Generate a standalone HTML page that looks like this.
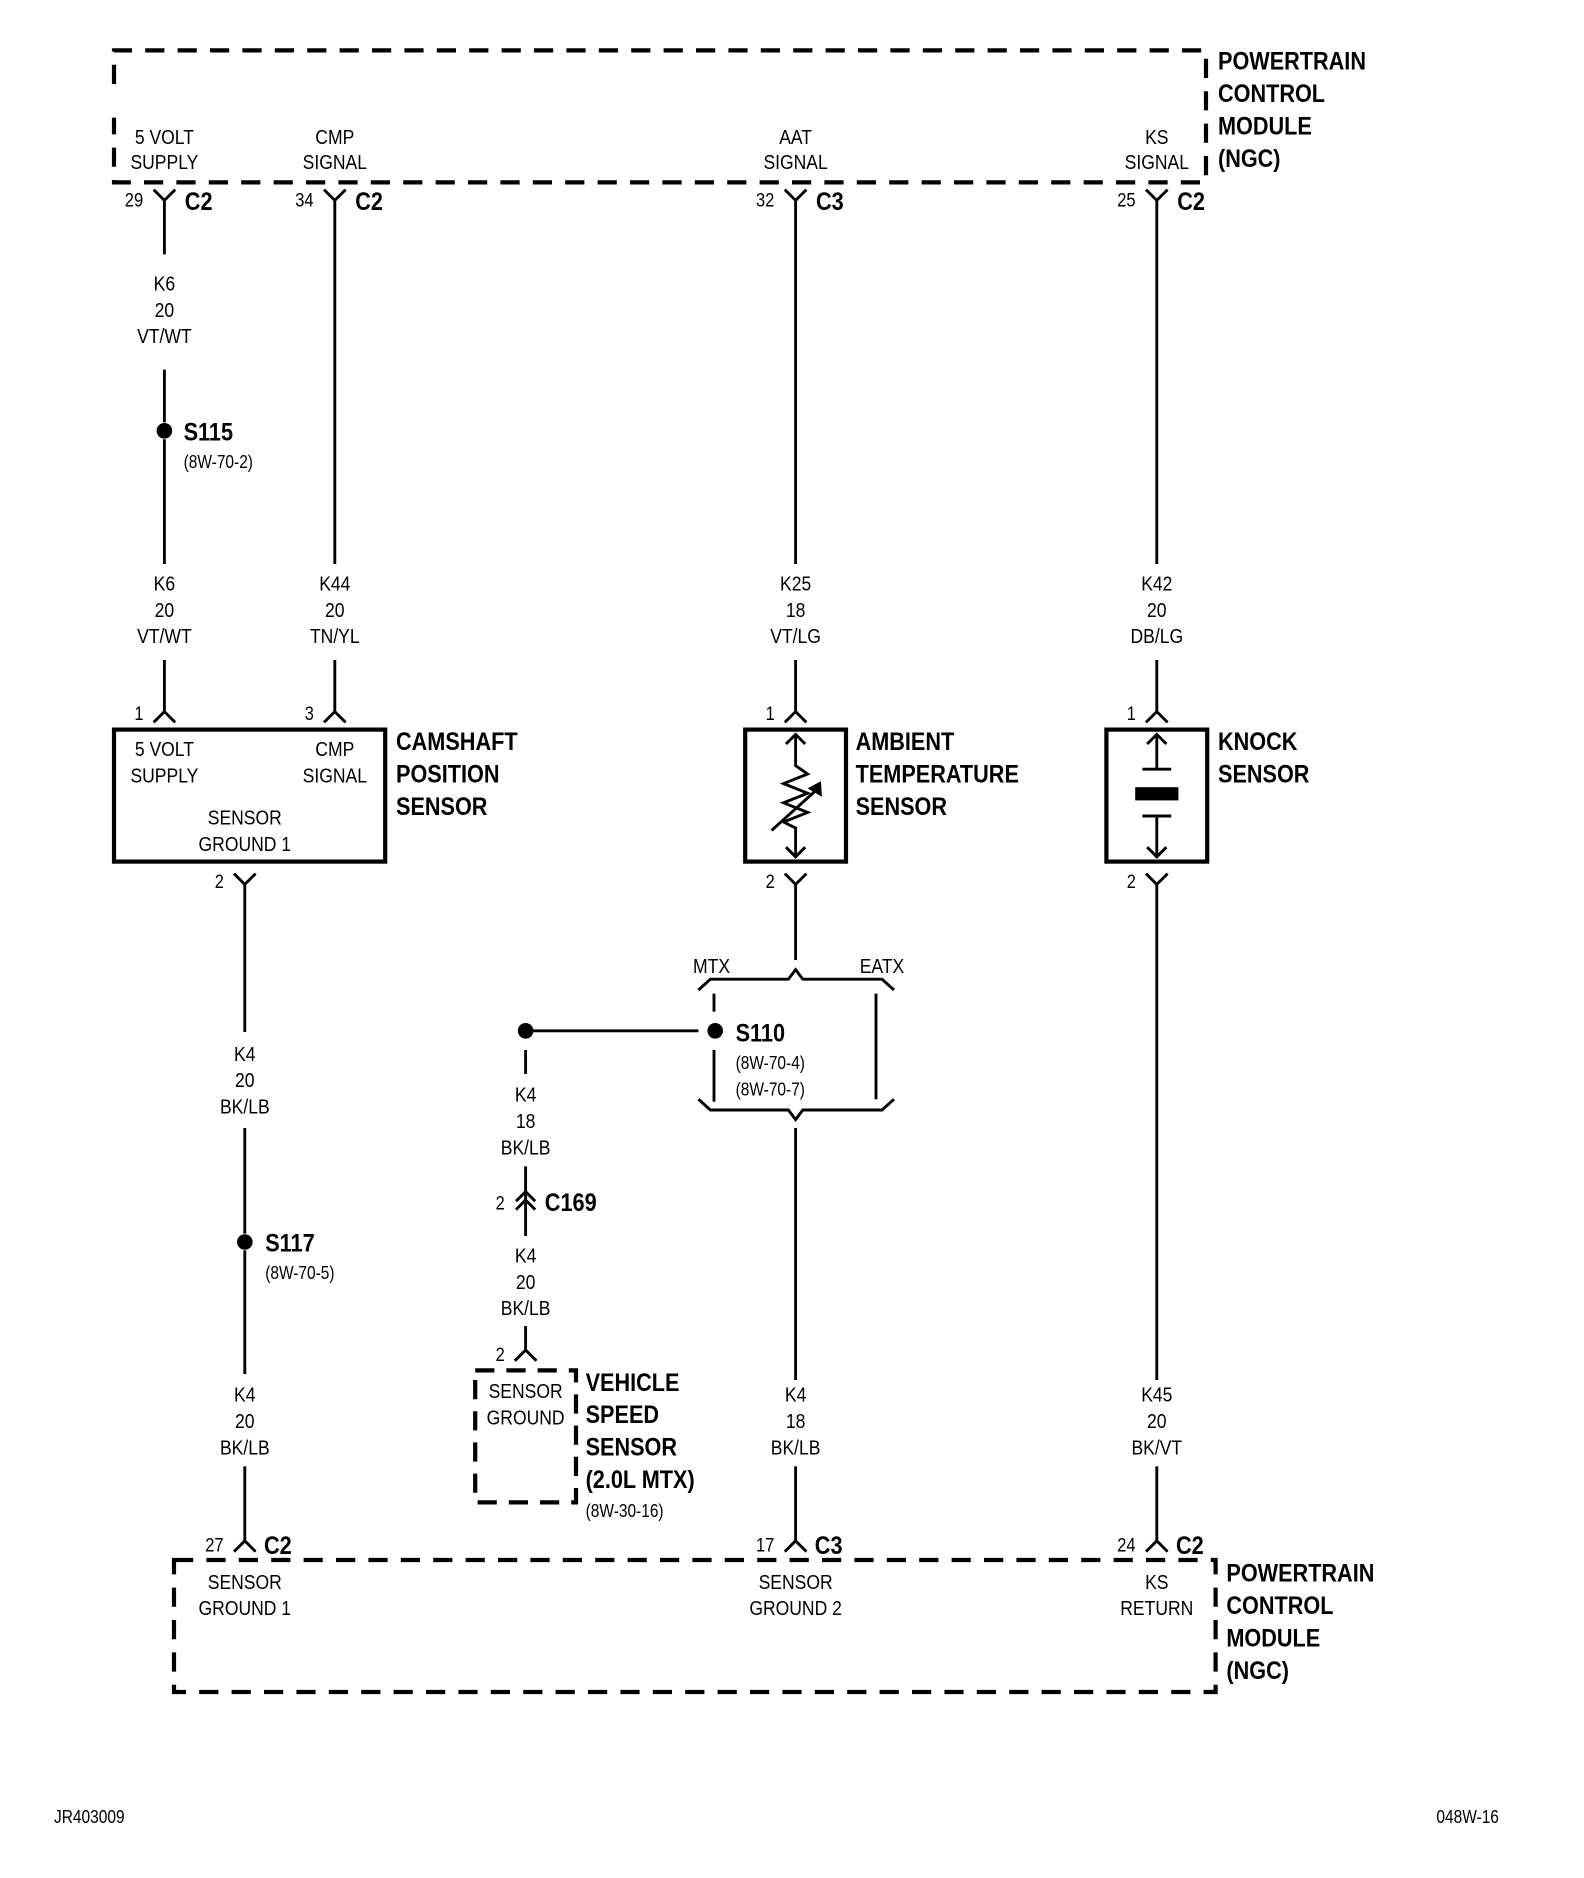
<!DOCTYPE html>
<html><head><style>
html,body{margin:0;padding:0;background:#fff;width:1584px;height:1878px;overflow:hidden}
svg{display:block}
text{font-family:"Liberation Sans Narrow","Liberation Sans",sans-serif;fill:#000}
.s{font-size:17px;text-anchor:middle}
.b{font-size:21px;font-weight:bold}
.p{font-size:16px}
.r{font-size:15px}
</style></head><body>
<svg id="d" width="1584" height="1878" viewBox="0 0 1320 1565" xmlns="http://www.w3.org/2000/svg">
<g fill="none" stroke="#000">
<path d="M95 70 V42 H1005 V152 H95 V98" stroke-width="3.5" stroke-dasharray="16 11"/>
<path d="M145 1300 H1013 V1410 H145 Z" stroke-width="3.5" stroke-dasharray="16 11"/>
<path d="M396 1142 H480 V1252 H396 Z" stroke-width="3.5" stroke-dasharray="16 10"/>
<g stroke-width="2.4">
<path d="M128 158 L137 167 L146 158 M137 167 V212 M137 308 V352 M137 366 V470 M137 550 V593 M128 602 L137 593 L146 602"/>
<path d="M270 158 L279 167 L288 158 M279 167 V470 M279 550 V593 M270 602 L279 593 L288 602"/>
<path d="M654 158 L663 167 L672 158 M663 167 V470 M663 550 V593 M654 602 L663 593 L672 602"/>
<path d="M955 158 L964 167 L973 158 M964 167 V470 M964 550 V593 M955 602 L964 593 L973 602"/>
<path d="M195 728 L204 737 L213 728 M204 737 V860 M204 940 V1028 M204 1042 V1145 M204 1222 V1284 M195 1293 L204 1284 L213 1293"/>
<path d="M654 728 L663 737 L672 728 M663 737 V800"/>
<path d="M663 612 V638 L673 645 L653 653 L673 661 L653 669 L673 677 L653 685 L663 690 V714 M655 620 L663 612 L671 620 M655 706 L663 714 L671 706"/>
<path d="M955 728 L964 737 L973 728 M964 737 V1150 M964 1222 V1284 M955 1293 L964 1284 L973 1293"/>
<path d="M964 612 V641 M952 641 H976 M952 680 H976 M964 680 V714 M956 620 L964 612 L972 620 M956 706 L964 714 L972 706"/>
<path d="M582 825 L592 816 H657 L663 808 L669 816 H735 L745 825"/>
<path d="M582 916 L592 925 H657 L663 933 L669 925 H735 L745 916"/>
<path d="M595 828 V843 M595 875 V918 M730 828 V916"/>
<path d="M663 940 V1150 M663 1222 V1284 M654 1293 L663 1284 L672 1293"/>
<path d="M438 859 H582 M438 875 V895 M438 972 V1030 M430 1001 L438 993 L446 1001 M430 1008 L438 1000 L446 1008 M438 1105 V1125 M429 1134 L438 1125 L447 1134"/>
<path d="M643 692 L684 655"/>
</g>
</g>
<rect x="95" y="608" width="226" height="110" fill="none" stroke="#000" stroke-width="3.5"/>
<rect x="621" y="608" width="84" height="110" fill="none" stroke="#000" stroke-width="3.5"/>
<rect x="922" y="608" width="84" height="110" fill="none" stroke="#000" stroke-width="3.5"/>
<rect x="946" y="656" width="36" height="11" fill="#000"/>
<path d="M684 651 L685 664 L673 657 Z" fill="#000"/>
<circle cx="137" cy="359" r="6.5"/>
<circle cx="204" cy="1035" r="6.5"/>
<circle cx="438" cy="859" r="6.5"/>
<circle cx="596" cy="859" r="6.5"/>

<text class="s" x="137" y="120">5 VOLT</text><text class="s" x="137" y="141">SUPPLY</text>
<text class="s" x="279" y="120">CMP</text><text class="s" x="279" y="141">SIGNAL</text>
<text class="s" x="663" y="120">AAT</text><text class="s" x="663" y="141">SIGNAL</text>
<text class="s" x="964" y="120">KS</text><text class="s" x="964" y="141">SIGNAL</text>
<text class="b" x="1015" y="58">POWERTRAIN</text><text class="b" x="1015" y="85">CONTROL</text><text class="b" x="1015" y="112">MODULE</text><text class="b" x="1015" y="139">(NGC)</text>
<text class="p" x="104" y="172">29</text><text class="b" x="154" y="175">C2</text>
<text class="p" x="246" y="172">34</text><text class="b" x="296" y="175">C2</text>
<text class="p" x="630" y="172">32</text><text class="b" x="680" y="175">C3</text>
<text class="p" x="931" y="172">25</text><text class="b" x="981" y="175">C2</text>
<text class="s" x="137" y="242">K6</text><text class="s" x="137" y="264">20</text><text class="s" x="137" y="286">VT/WT</text>
<text class="b" x="153" y="367">S115</text><text class="r" x="153" y="390">(8W-70-2)</text>
<text class="s" x="137" y="492">K6</text><text class="s" x="137" y="514">20</text><text class="s" x="137" y="536">VT/WT</text>
<text class="s" x="279" y="492">K44</text><text class="s" x="279" y="514">20</text><text class="s" x="279" y="536">TN/YL</text>
<text class="s" x="663" y="492">K25</text><text class="s" x="663" y="514">18</text><text class="s" x="663" y="536">VT/LG</text>
<text class="s" x="964" y="492">K42</text><text class="s" x="964" y="514">20</text><text class="s" x="964" y="536">DB/LG</text>
<text class="p" x="112" y="600">1</text><text class="p" x="254" y="600">3</text><text class="p" x="638" y="600">1</text><text class="p" x="939" y="600">1</text>
<text class="s" x="137" y="630">5 VOLT</text><text class="s" x="137" y="652">SUPPLY</text>
<text class="s" x="279" y="630">CMP</text><text class="s" x="279" y="652">SIGNAL</text>
<text class="s" x="204" y="687">SENSOR</text><text class="s" x="204" y="709">GROUND 1</text>
<text class="b" x="330" y="625">CAMSHAFT</text><text class="b" x="330" y="652">POSITION</text><text class="b" x="330" y="679">SENSOR</text>
<text class="b" x="713" y="625">AMBIENT</text><text class="b" x="713" y="652">TEMPERATURE</text><text class="b" x="713" y="679">SENSOR</text>
<text class="b" x="1015" y="625">KNOCK</text><text class="b" x="1015" y="652">SENSOR</text>
<text class="p" x="179" y="740">2</text><text class="p" x="638" y="740">2</text><text class="p" x="939" y="740">2</text>
<text class="s" x="204" y="884">K4</text><text class="s" x="204" y="906">20</text><text class="s" x="204" y="928">BK/LB</text>
<text class="b" x="221" y="1043">S117</text><text class="r" x="221" y="1066">(8W-70-5)</text>
<text class="s" x="204" y="1168">K4</text><text class="s" x="204" y="1190">20</text><text class="s" x="204" y="1212">BK/LB</text>
<text class="s" x="593" y="811">MTX</text><text class="s" x="735" y="811">EATX</text>
<text class="b" x="613" y="868">S110</text><text class="r" x="613" y="891">(8W-70-4)</text><text class="r" x="613" y="913">(8W-70-7)</text>
<text class="s" x="438" y="918">K4</text><text class="s" x="438" y="940">18</text><text class="s" x="438" y="962">BK/LB</text>
<text class="p" x="413" y="1008">2</text><text class="b" x="454" y="1009">C169</text>
<text class="s" x="438" y="1052">K4</text><text class="s" x="438" y="1074">20</text><text class="s" x="438" y="1096">BK/LB</text>
<text class="p" x="413" y="1134">2</text>
<text class="s" x="438" y="1165">SENSOR</text><text class="s" x="438" y="1187">GROUND</text>
<text class="b" x="488" y="1159">VEHICLE</text><text class="b" x="488" y="1186">SPEED</text><text class="b" x="488" y="1213">SENSOR</text><text class="b" x="488" y="1240">(2.0L MTX)</text>
<text class="r" x="488" y="1264">(8W-30-16)</text>
<text class="s" x="663" y="1168">K4</text><text class="s" x="663" y="1190">18</text><text class="s" x="663" y="1212">BK/LB</text>
<text class="s" x="964" y="1168">K45</text><text class="s" x="964" y="1190">20</text><text class="s" x="964" y="1212">BK/VT</text>
<text class="p" x="171" y="1293">27</text><text class="b" x="220" y="1295">C2</text>
<text class="p" x="630" y="1293">17</text><text class="b" x="679" y="1295">C3</text>
<text class="p" x="931" y="1293">24</text><text class="b" x="980" y="1295">C2</text>
<text class="s" x="204" y="1324">SENSOR</text><text class="s" x="204" y="1346">GROUND 1</text>
<text class="s" x="663" y="1324">SENSOR</text><text class="s" x="663" y="1346">GROUND 2</text>
<text class="s" x="964" y="1324">KS</text><text class="s" x="964" y="1346">RETURN</text>
<text class="b" x="1022" y="1318">POWERTRAIN</text><text class="b" x="1022" y="1345">CONTROL</text><text class="b" x="1022" y="1372">MODULE</text><text class="b" x="1022" y="1399">(NGC)</text>
<text class="r" x="45" y="1519">JR403009</text>
<text class="r" x="1197" y="1519">048W-16</text>
</svg>
<script>
document.querySelectorAll('#d text').forEach(function(t){
  var w=t.getComputedTextLength();
  if(w>0){t.setAttribute('textLength',(w*0.86).toFixed(1));t.setAttribute('lengthAdjust','spacingAndGlyphs');}
});
</script>
</body></html>
